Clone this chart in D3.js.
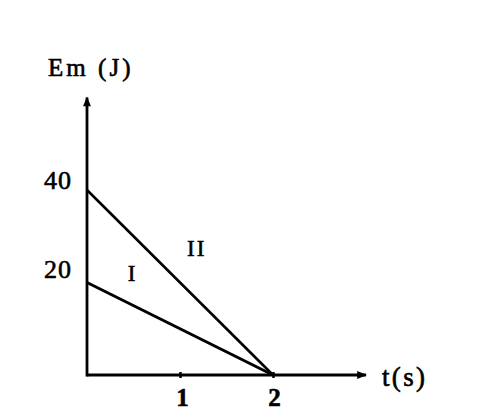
<!DOCTYPE html>
<html>
<head>
<meta charset="utf-8">
<script src="https://cdn.jsdelivr.net/npm/d3@7"></script>
<style>
  html, body { margin: 0; padding: 0; background: #fff; }
  svg text { font-family: "Liberation Serif", "DejaVu Serif", serif; fill: #000; stroke: #000; stroke-width: 0.6px; }
</style>
</head>
<body>
<div id="chart"></div>
<script>
// values
const times = [0, 2];
const energyI = [20, 0];
const energyII = [40, 0];
const xTicks = [1, 2];
const yTicks = [20, 40];
const seriesNames = ["I", "II"];

const W = 500, H = 420;

const svg = d3.select("#chart").append("svg")
    .attr("width", W)
    .attr("height", H);

const x = d3.scaleLinear().domain([0, 2]).range([87, 273]);
const y = d3.scaleLinear().domain([0, 40]).range([375, 190]);

// axis limits (beyond the data, where the arrows sit)
const xEnd = 3.0, yEnd = 60;

// arrow heads
const defs = svg.append("defs");
defs.append("marker")
    .attr("id", "arrow")
    .attr("viewBox", "0 0 10 10")
    .attr("refX", 9).attr("refY", 5)
    .attr("markerWidth", 4.5).attr("markerHeight", 3.5)
    .attr("markerUnits", "strokeWidth")
    .attr("orient", "auto")
    .append("path")
    .attr("d", "M0,1 L10,5 L0,9 Z")
    .attr("fill", "#000");

// axis lines
svg.append("line")
    .attr("x1", x(0)).attr("y1", y(0))
    .attr("x2", x(xEnd)).attr("y2", y(0))
    .attr("stroke", "#000").attr("stroke-width", 2.8)
    .attr("marker-end", "url(#arrow)");

svg.append("line")
    .attr("x1", x(0)).attr("y1", y(0) + 1.4)
    .attr("x2", x(0)).attr("y2", y(yEnd))
    .attr("stroke", "#000").attr("stroke-width", 2.8)
    .attr("marker-end", "url(#arrow)");

// ticks via d3 axes (domain hidden, the lines above act as axes)
const xAxis = svg.append("g")
    .attr("transform", `translate(0,${y(0)})`)
    .call(d3.axisBottom(x).tickValues(xTicks).tickSize(3).tickPadding(10).tickFormat(d3.format("d")));
xAxis.select(".domain").remove();
xAxis.selectAll(".tick line").attr("stroke", "#000").attr("stroke-width", 2.5).attr("y1", -3);
xAxis.selectAll(".tick text")
    .style("font-family", "'Liberation Serif', serif")
    .style("font-size", "25px")
    .style("font-weight", "bold")
    .attr("fill", "#000")
    .attr("dx", (d) => d === 1 ? 2 : 1);

const yAxis = svg.append("g")
    .attr("transform", `translate(${x(0)},0)`)
    .call(d3.axisLeft(y).tickValues(yTicks).tickSize(0).tickPadding(15).tickFormat(d3.format("d")));
yAxis.select(".domain").remove();
yAxis.selectAll(".tick text")
    .style("font-family", "'Liberation Serif', serif")
    .style("font-size", "26px")
    .style("letter-spacing", "1px")
    .attr("fill", "#000")
    .attr("dy", (d) => d === 20 ? "-0.2em" : "-0.05em");

// the two lines
const line = d3.line()
    .x((d, i) => x(times[i]))
    .y((d) => y(d));

svg.append("path")
    .datum(energyI)
    .attr("d", line)
    .attr("fill", "none")
    .attr("stroke", "#000")
    .attr("stroke-width", 3);

svg.append("path")
    .datum(energyII)
    .attr("d", line)
    .attr("fill", "none")
    .attr("stroke", "#000")
    .attr("stroke-width", 2.6);

// series labels
svg.append("text")
    .attr("x", x(0.48)).attr("y", y(20.4))
    .attr("text-anchor", "middle")
    .style("font-size", "23px")
    .text(seriesNames[0]);

svg.append("text")
    .attr("x", x(1.18)).attr("y", y(25.8))
    .attr("text-anchor", "middle")
    .style("font-size", "23px")
    .style("letter-spacing", "2px")
    .text(seriesNames[1]);

// axis titles
svg.append("text")
    .attr("x", 48).attr("y", 76)
    .style("font-size", "25px")
    .style("letter-spacing", "2.5px")
    .attr("textLength", 85)
    .text("Em (J)");

svg.append("text")
    .attr("x", 382).attr("y", 386)
    .style("font-size", "27px")
    .attr("textLength", 43)
    .text("t(s)");
</script>
</body>
</html>
